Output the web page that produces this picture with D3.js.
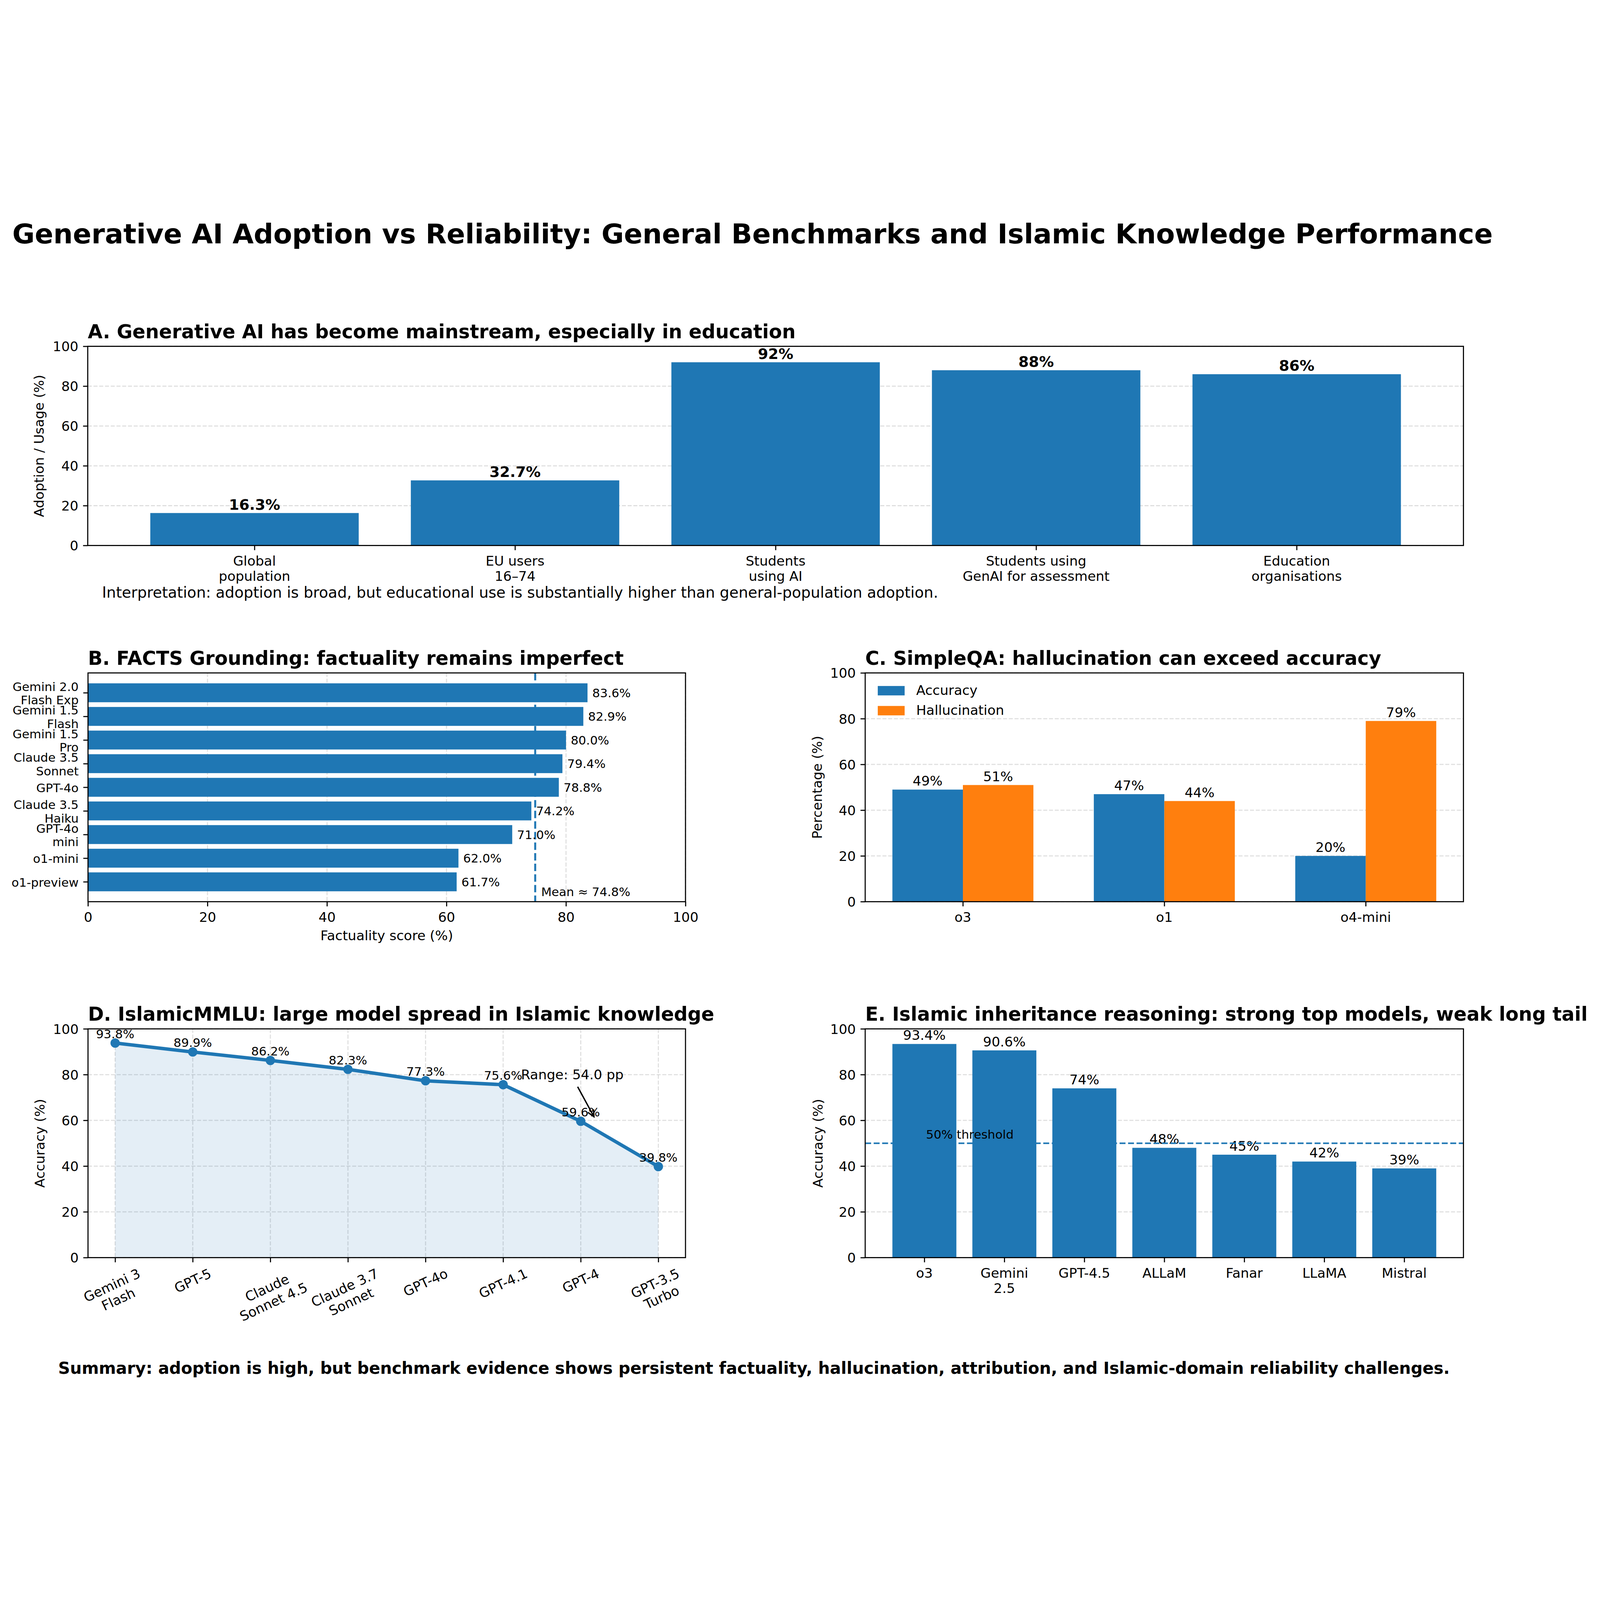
<!DOCTYPE html>
<html><head><meta charset="utf-8">
<script src="https://cdn.jsdelivr.net/npm/d3@7"></script>
<style>
html,body{margin:0;padding:0;background:#fff;overflow:hidden}
svg{display:block;width:100vw;height:100vh}
text{font-family:"DejaVu Sans",sans-serif;fill:#000}
</style>
</head><body><svg id="chart"></svg>
<script>
// ---------------- DATA ----------------
const adoptionCategories = ["Global\npopulation","EU users\n16–74","Students\nusing AI","Students using\nGenAI for assessment","Education\norganisations"];
const adoptionValues = [16.3, 32.7, 92, 88, 86];
const adoptionLabels = ["16.3%","32.7%","92%","88%","86%"];

const factsModels = ["Gemini 2.0\nFlash Exp","Gemini 1.5\nFlash","Gemini 1.5\nPro","Claude 3.5\nSonnet","GPT-4o","Claude 3.5\nHaiku","GPT-4o\nmini","o1-mini","o1-preview"];
const factsScores = [83.6, 82.9, 80.0, 79.4, 78.8, 74.2, 71.0, 62.0, 61.7];

const simpleqaModels = ["o3","o1","o4-mini"];
const simpleqaAccuracy = [49, 47, 20];
const simpleqaHallucination = [51, 44, 79];
const simpleqaSeries = ["Accuracy","Hallucination"];

const islamicMmluModels = ["Gemini 3\nFlash","GPT-5","Claude\nSonnet 4.5","Claude 3.7\nSonnet","GPT-4o","GPT-4.1","GPT-4","GPT-3.5\nTurbo"];
const islamicMmluScores = [93.8, 89.9, 86.2, 82.3, 77.3, 75.6, 59.6, 39.8];

const inheritanceModels = ["o3","Gemini\n2.5","GPT-4.5","ALLaM","Fanar","LLaMA","Mistral"];
const inheritanceScores = [93.4, 90.6, 74, 48, 45, 42, 39];
const inheritanceThreshold = 50;

const percentTicks = [0, 20, 40, 60, 80, 100];

// ---------------- SETUP ----------------
const W = 6491, H = 4765;
const BLUE = "#1f77b4", ORANGE = "#ff7f0e";
const PT = 5.45;
const fsTick = 10*PT, fsSmall = 9*PT, fsTitle = 77.5, fsSup = 111, fsNote = 61, fsSummary = 66.7;
const SPINE = 4.4, TICKLEN = 19, TICKPAD = 19;

const svg = d3.select("#chart").attr("viewBox", `0 0 ${W} ${H}`).attr("preserveAspectRatio", "xMidYMid meet");
svg.append("rect").attr("width", W).attr("height", H).attr("fill", "#fff");

const boxes = {
  A: {l: 356, r: 5937, t: 542, b: 1350},
  B: {l: 357, r: 2781, t: 1867, b: 2795},
  C: {l: 3510, r: 5937, t: 1867, b: 2795},
  D: {l: 357, r: 2781, t: 3311, b: 4239},
  E: {l: 3510, r: 5937, t: 3311, b: 4239}
};

function fmtPct(v, dec) { return (dec ? v.toFixed(1) : (Number.isInteger(v) ? String(v) : v.toFixed(1))) + "%"; }
function mplDomain(lo, hi) { const p = 0.05*(hi-lo); return [lo-p, hi+p]; }

function multiText(g, lines, x, y, fs, anchor, lh, weight) {
  const t = g.append("text").attr("x", x).attr("y", y).attr("font-size", fs).attr("text-anchor", anchor);
  if (weight) t.attr("font-weight", weight);
  lines.forEach((s, i) => t.append("tspan").attr("x", x).attr("dy", i === 0 ? 0 : lh).text(s));
  return t;
}
function frame(g, box) {
  g.append("rect").attr("x", box.l).attr("y", box.t).attr("width", box.r-box.l).attr("height", box.b-box.t)
    .attr("fill", "none").attr("stroke", "#000").attr("stroke-width", SPINE);
}
function styleAxis(ag) {
  ag.attr("font-family", "DejaVu Sans").attr("font-size", fsTick);
  ag.select(".domain").remove();
  ag.selectAll(".tick line").attr("stroke", "#000").attr("stroke-width", SPINE);
  ag.selectAll(".tick text").attr("fill", "#000");
}
function yAxisLeft(g, box, y, ticks) {
  const ag = g.append("g").attr("transform", `translate(${box.l},0)`)
    .call(d3.axisLeft(y).tickValues(ticks).tickSize(TICKLEN).tickPadding(TICKPAD).tickFormat(d3.format("d")));
  styleAxis(ag);
  ag.selectAll(".tick text").attr("dy", "0.36em");
}
function xAxisBottomNumeric(g, box, x, ticks) {
  const ag = g.append("g").attr("transform", `translate(0,${box.b})`)
    .call(d3.axisBottom(x).tickValues(ticks).tickSize(TICKLEN).tickPadding(TICKPAD).tickFormat(d3.format("d")));
  styleAxis(ag);
  ag.selectAll(".tick text").attr("dy", "0.8em");
}
function xAxisBottomCats(g, box, x, cats, fs) {
  const ag = g.append("g").attr("transform", `translate(0,${box.b})`)
    .call(d3.axisBottom(x).tickValues(d3.range(cats.length)).tickSize(TICKLEN).tickFormat(""));
  styleAxis(ag);
  ag.selectAll(".tick text").remove();
  cats.forEach((c, i) => multiText(g, c.split("\n"), x(i), box.b + TICKLEN + TICKPAD + 0.8*fs, fs, "middle", 1.14*fs));
}
function hGrid(g, box, y, ticks) {
  g.append("g").selectAll("line").data(ticks).join("line")
    .attr("x1", box.l).attr("x2", box.r).attr("y1", d => y(d)).attr("y2", d => y(d))
    .attr("stroke", "#b0b0b0").attr("stroke-opacity", 0.4).attr("stroke-width", SPINE).attr("stroke-dasharray", "16.3,7");
}
function vGrid(g, box, x, ticks) {
  g.append("g").selectAll("line").data(ticks).join("line")
    .attr("y1", box.t).attr("y2", box.b).attr("x1", d => x(d)).attr("x2", d => x(d))
    .attr("stroke", "#b0b0b0").attr("stroke-opacity", 0.4).attr("stroke-width", SPINE).attr("stroke-dasharray", "16.3,7");
}
function panelTitle(g, box, s) {
  g.append("text").attr("x", box.l).attr("y", box.t - 33).attr("font-size", fsTitle).attr("font-weight", "bold").text(s);
}
function yLabel(g, cx, box, s) {
  const cy = (box.t + box.b)/2;
  g.append("text").attr("transform", `translate(${cx + 20},${cy}) rotate(-90)`).attr("text-anchor", "middle")
    .attr("font-size", fsTick).text(s);
}

// ---------------- SUPTITLE ----------------
svg.append("text").attr("x", 50).attr("y", 124).attr("font-size", fsSup).attr("font-weight", "bold")
  .text("Generative AI Adoption vs Reliability: General Benchmarks and Islamic Knowledge Performance");

// ---------------- PANEL A ----------------
{
  const box = boxes.A, g = svg.append("g");
  const x = d3.scaleLinear().domain(mplDomain(-0.4, adoptionValues.length - 1 + 0.4)).range([box.l, box.r]);
  const y = d3.scaleLinear().domain([0, 100]).range([box.b, box.t]);
  hGrid(g, box, y, percentTicks);
  g.append("g").selectAll("rect").data(adoptionValues).join("rect")
    .attr("x", (d, i) => x(i - 0.4)).attr("width", (d, i) => x(i + 0.4) - x(i - 0.4))
    .attr("y", d => y(d)).attr("height", d => y(0) - y(d)).attr("fill", BLUE);
  g.append("g").selectAll("text").data(adoptionValues).join("text")
    .attr("x", (d, i) => x(i)).attr("y", d => y(d) - 14).attr("text-anchor", "middle")
    .attr("font-size", 11*PT).attr("font-weight", "bold").text((d, i) => adoptionLabels[i]);
  yAxisLeft(g, box, y, percentTicks);
  xAxisBottomCats(g, box, x, adoptionCategories, fsTick);
  frame(g, box);
  panelTitle(g, box, "A. Generative AI has become mainstream, especially in education");
  yLabel(g, 157, box, "Adoption / Usage (%)");
  g.append("text").attr("x", 414).attr("y", 1562).attr("font-size", fsNote)
    .text("Interpretation: adoption is broad, but educational use is substantially higher than general-population adoption.");
}

// ---------------- PANEL B ----------------
{
  const box = boxes.B, g = svg.append("g");
  const x = d3.scaleLinear().domain([0, 100]).range([box.l, box.r]);
  const y = d3.scaleLinear().domain(mplDomain(-0.4, factsScores.length - 1 + 0.4)).range([box.t, box.b]);
  vGrid(g, box, x, percentTicks);
  const mean = d3.mean(factsScores);
  g.append("line").attr("x1", x(mean)).attr("x2", x(mean)).attr("y1", box.t).attr("y2", box.b)
    .attr("stroke", BLUE).attr("stroke-width", 8).attr("stroke-dasharray", "30,13");
  g.append("g").selectAll("rect").data(factsScores).join("rect")
    .attr("x", x(0)).attr("width", d => x(d) - x(0))
    .attr("y", (d, i) => y(i - 0.4)).attr("height", (d, i) => y(i + 0.4) - y(i - 0.4)).attr("fill", BLUE);
  g.append("g").selectAll("text").data(factsScores).join("text")
    .attr("x", d => x(d + 0.8)).attr("y", (d, i) => y(i) + 0.36*fsSmall)
    .attr("font-size", fsSmall).text(d => fmtPct(d, true));
  g.append("text").attr("x", x(mean + 1)).attr("y", y(factsScores.length - 0.4))
    .attr("font-size", fsSmall).text(`Mean ≈ ${mean.toFixed(1)}%`);
  const ag = g.append("g").attr("transform", `translate(${box.l},0)`)
    .call(d3.axisLeft(y).tickValues(d3.range(factsModels.length)).tickSize(TICKLEN).tickFormat(""));
  styleAxis(ag);
  ag.selectAll(".tick text").remove();
  const lh = 1.12*fsSmall;
  factsModels.forEach((m, i) => {
    const lines = m.split("\n");
    multiText(g, lines, box.l - TICKLEN - TICKPAD, y(i) - (lines.length - 1)*lh/2 + 0.4*fsSmall, fsSmall, "end", lh);
  });
  xAxisBottomNumeric(g, box, x, percentTicks);
  frame(g, box);
  panelTitle(g, box, "B. FACTS Grounding: factuality remains imperfect");
  g.append("text").attr("x", (box.l + box.r)/2).attr("y", 2952).attr("text-anchor", "middle")
    .attr("font-size", fsTick).text("Factuality score (%)");
}

// ---------------- PANEL C ----------------
{
  const box = boxes.C, g = svg.append("g");
  const bw = 0.35;
  const x = d3.scaleLinear().domain(mplDomain(-bw, simpleqaModels.length - 1 + bw)).range([box.l, box.r]);
  const y = d3.scaleLinear().domain([0, 100]).range([box.b, box.t]);
  hGrid(g, box, y, percentTicks);
  const series = [
    {vals: simpleqaAccuracy, off: -bw/2, color: BLUE},
    {vals: simpleqaHallucination, off: bw/2, color: ORANGE}
  ];
  series.forEach(s => {
    g.append("g").selectAll("rect").data(s.vals).join("rect")
      .attr("x", (d, i) => x(i + s.off - bw/2)).attr("width", (d, i) => x(i + s.off + bw/2) - x(i + s.off - bw/2))
      .attr("y", d => y(d)).attr("height", d => y(0) - y(d)).attr("fill", s.color);
    g.append("g").selectAll("text").data(s.vals).join("text")
      .attr("x", (d, i) => x(i + s.off)).attr("y", d => y(d) - 16).attr("text-anchor", "middle")
      .attr("font-size", fsTick).text(d => d + "%");
  });
  yAxisLeft(g, box, y, percentTicks);
  xAxisBottomCats(g, box, x, simpleqaModels, fsTick);
  frame(g, box);
  panelTitle(g, box, "C. SimpleQA: hallucination can exceed accuracy");
  yLabel(g, 3314, box, "Percentage (%)");
  const lg = g.append("g");
  simpleqaSeries.forEach((s, i) => {
    const ly = box.t + 53 + i*81;
    lg.append("rect").attr("x", box.l + 51).attr("y", ly).attr("width", 2*fsTick).attr("height", 0.7*fsTick)
      .attr("fill", series[i].color);
    lg.append("text").attr("x", box.l + 207).attr("y", ly + 0.7*fsTick - 2).attr("font-size", fsTick).text(s);
  });
}

// ---------------- PANEL D ----------------
{
  const box = boxes.D, g = svg.append("g");
  const n = islamicMmluScores.length;
  const x = d3.scaleLinear().domain(mplDomain(0, n - 1)).range([box.l, box.r]);
  const y = d3.scaleLinear().domain([0, 100]).range([box.b, box.t]);
  hGrid(g, box, y, percentTicks);
  vGrid(g, box, x, d3.range(n));
  const area = d3.area().x((d, i) => x(i)).y0(y(0)).y1(d => y(d));
  g.append("path").datum(islamicMmluScores).attr("d", area).attr("fill", BLUE).attr("fill-opacity", 0.12);
  const line = d3.line().x((d, i) => x(i)).y(d => y(d));
  g.append("path").datum(islamicMmluScores).attr("d", line).attr("fill", "none").attr("stroke", BLUE)
    .attr("stroke-width", 14).attr("stroke-linejoin", "round");
  g.append("g").selectAll("circle").data(islamicMmluScores).join("circle")
    .attr("cx", (d, i) => x(i)).attr("cy", d => y(d)).attr("r", 19).attr("fill", BLUE);
  g.append("g").selectAll("text").data(islamicMmluScores).join("text")
    .attr("x", (d, i) => x(i)).attr("y", d => y(d) - 20).attr("text-anchor", "middle")
    .attr("font-size", fsSmall).text(d => d.toFixed(1) + "%");
  const range = d3.max(islamicMmluScores) - d3.min(islamicMmluScores);
  g.append("text").attr("x", x(5.23)).attr("y", y(78)).attr("font-size", fsTick).text(`Range: ${range.toFixed(1)} pp`);
  const x1 = x(5.96), y1 = y(74.7), x2 = x(6.17), y2 = y(61.6);
  g.append("line").attr("x1", x1).attr("y1", y1).attr("x2", x2).attr("y2", y2).attr("stroke", "#000").attr("stroke-width", 5.5);
  const ang = Math.atan2(y2 - y1, x2 - x1), hl = 30, hw = 0.45;
  g.append("path").attr("d", `M${x2 - hl*Math.cos(ang - hw)},${y2 - hl*Math.sin(ang - hw)} L${x2},${y2} L${x2 - hl*Math.cos(ang + hw)},${y2 - hl*Math.sin(ang + hw)}`)
    .attr("fill", "none").attr("stroke", "#000").attr("stroke-width", 5.5);
  yAxisLeft(g, box, y, percentTicks);
  const ag = g.append("g").attr("transform", `translate(0,${box.b})`)
    .call(d3.axisBottom(x).tickValues(d3.range(n)).tickSize(TICKLEN).tickFormat(""));
  styleAxis(ag);
  ag.selectAll(".tick text").remove();
  const th = 25*Math.PI/180;
  islamicMmluModels.forEach((m, i) => {
    const t = multiText(g, m.split("\n"), 0, 0, fsTick, "middle", 1.14*fsTick);
    const bb = t.node().getBBox();
    const Hr = bb.width*Math.sin(th) + bb.height*Math.cos(th);
    t.attr("transform", `translate(${x(i)},${box.b + TICKLEN + TICKPAD + Hr/2 - 6}) rotate(-25) translate(${-(bb.x + bb.width/2)},${-(bb.y + bb.height/2)})`);
  });
  frame(g, box);
  panelTitle(g, box, "D. IslamicMMLU: large model spread in Islamic knowledge");
  yLabel(g, 160, box, "Accuracy (%)");
}

// ---------------- PANEL E ----------------
{
  const box = boxes.E, g = svg.append("g");
  const n = inheritanceScores.length;
  const x = d3.scaleLinear().domain(mplDomain(-0.4, n - 1 + 0.4)).range([box.l, box.r]);
  const y = d3.scaleLinear().domain([0, 100]).range([box.b, box.t]);
  hGrid(g, box, y, percentTicks);
  g.append("g").selectAll("rect").data(inheritanceScores).join("rect")
    .attr("x", (d, i) => x(i - 0.4)).attr("width", (d, i) => x(i + 0.4) - x(i - 0.4))
    .attr("y", d => y(d)).attr("height", d => y(0) - y(d)).attr("fill", BLUE);
  g.append("g").selectAll("text").data(inheritanceScores).join("text")
    .attr("x", (d, i) => x(i)).attr("y", d => y(d) - 16).attr("text-anchor", "middle")
    .attr("font-size", fsTick).text(d => fmtPct(d, false));
  g.append("line").attr("x1", box.l).attr("x2", box.r).attr("y1", y(inheritanceThreshold)).attr("y2", y(inheritanceThreshold))
    .attr("stroke", BLUE).attr("stroke-width", 6.5).attr("stroke-dasharray", "24,10.4");
  g.append("text").attr("x", x(0.02)).attr("y", y(inheritanceThreshold) - 18).attr("font-size", fsSmall)
    .text(`${inheritanceThreshold}% threshold`);
  yAxisLeft(g, box, y, percentTicks);
  xAxisBottomCats(g, box, x, inheritanceModels, fsTick);
  frame(g, box);
  panelTitle(g, box, "E. Islamic inheritance reasoning: strong top models, weak long tail");
  yLabel(g, 3317, box, "Accuracy (%)");
}

// ---------------- SUMMARY ----------------
svg.append("text").attr("x", 236).attr("y", 4710).attr("font-size", fsSummary).attr("font-weight", "bold")
  .text("Summary: adoption is high, but benchmark evidence shows persistent factuality, hallucination, attribution, and Islamic-domain reliability challenges.");
</script>
</body></html>
